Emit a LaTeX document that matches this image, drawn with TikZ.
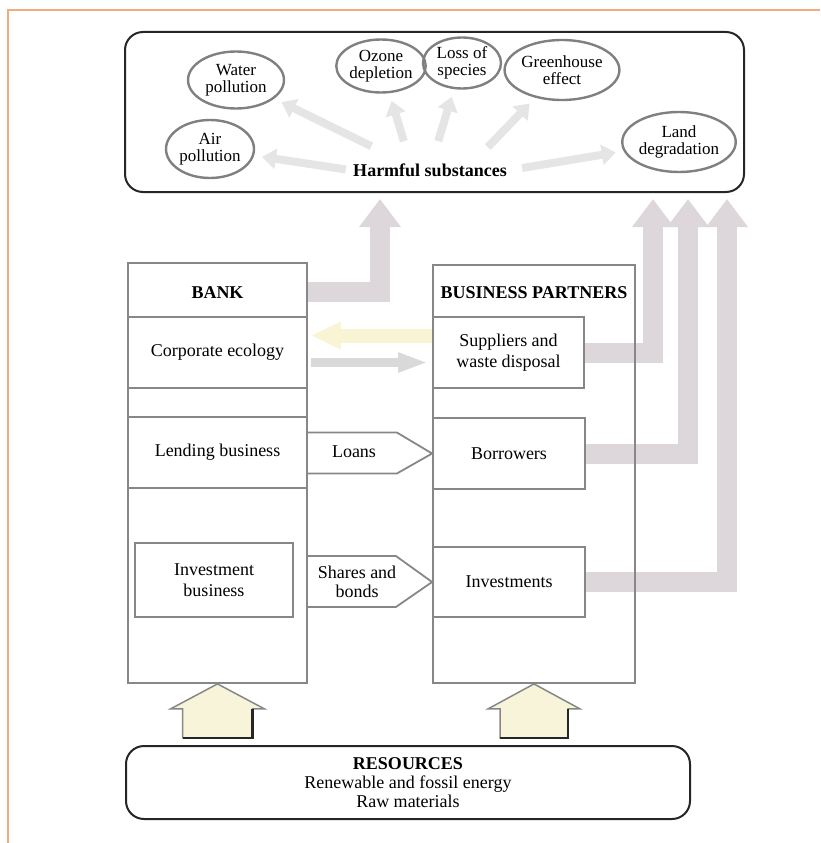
\documentclass[tikz,border=0pt]{standalone}
\usepackage{fontspec}
\setmainfont{Liberation Serif}
\usepackage{tikz}
\usetikzlibrary{arrows,arrows.meta,shapes,calc}
\definecolor{framecol}{RGB}{240,172,128}
\definecolor{boxgray}{RGB}{135,135,135}
\definecolor{flowgray}{RGB}{221,214,218}
\definecolor{paleyellow}{RGB}{249,245,212}
\definecolor{housefill}{RGB}{248,244,218}

\begin{document}
\begin{tikzpicture}[x=1pt,y=-1pt]
\tikzstyle{main}=[ellipse, draw=black!50, line width=2.4pt, inner sep=0pt, align=center, font=\fontsize{17}{17}\selectfont]
\tikzstyle{round}=[rectangle, rounded corners=18pt, draw=black!85, line width=2pt]
\tikzstyle{col}=[rectangle, draw=boxgray, line width=1.8pt, minimum width=179pt, minimum height=420pt]
\tikzstyle{rect}=[rectangle, draw=boxgray, line width=1.8pt, align=center, font=\fontsize{18}{21}\selectfont]
\tikzstyle{head}=[font=\bfseries\fontsize{18}{20}\selectfont]
\tikzstyle{fuzzy}=[-{Triangle[length=14pt,width=20pt]}, line width=8pt, draw=black!10, shorten <=4pt, shorten >=8pt]
\tikzstyle{flow}=[-{Triangle[length=28pt,width=40pt]}, line width=20pt, draw=flowgray, line join=miter, shorten >=6pt]
\tikzstyle{pent}=[draw=boxgray, line width=1.8pt, line join=miter]
\tikzstyle{house}=[fill=housefill, draw=boxgray, line width=1.5pt, line join=miter]

\useasboundingbox (0,0) rectangle (820,843);
\draw[framecol, line width=1.6pt] (8,843) -- (8,10) -- (820,10);

% harmful substances
\node[round, minimum width=619pt, minimum height=160pt] (top) at (434.5,112) {};
\node[head] (sub) at (430,170) {Harmful substances};
\node[main, minimum width=96pt, minimum height=57pt] (water) at (236,80) {Water\\pollution};
\node[main, minimum width=88pt, minimum height=58pt] (air)   at (210,149) {Air\\pollution};
\node[main, minimum width=76pt, minimum height=53pt] (ozone) at (381,66) {Ozone\\depletion};
\node[main, minimum width=78pt, minimum height=51pt] (loss)  at (462,63) {Loss of\\species};
\node[main, minimum width=106pt, minimum height=60pt] (green) at (562,70) {Greenhouse\\effect};
\node[main, minimum width=82pt, minimum height=60pt] (land)  at (679,142) {Land\\degradation};

\draw[fuzzy] (sub.west) -- (air);
\draw[fuzzy] ($(sub)+(-55,-22)$) -- (water);
\draw[fuzzy] ($(sub)+(-25,-25)$) -- (ozone);
\draw[fuzzy] ($(sub)+(7,-25)$) -- (loss);
\draw[fuzzy] ($(sub)+(55,-20)$) -- (green);
\draw[fuzzy, shorten <=12pt] (sub.east) -- (land);

% bank and partners
\node[head] (bankhead) at (217.5,293) {BANK};
\node[head] (parthead) at (534,293) {BUSINESS PARTNERS};
\node[rect, minimum width=179pt, minimum height=71pt] (ecology) at (217.5,352.5) {Corporate ecology};
\node[rect, minimum width=179pt, minimum height=71pt] (lending) [below of=ecology, node distance=100pt] {Lending business};
\node[rect, minimum width=158pt, minimum height=74pt] (invest) at (214,580) {Investment\\business};
\node[rect, minimum width=151pt, minimum height=71pt] (supply) at (508.5,352.5) {Suppliers and\\waste disposal};
\node[rect, minimum width=152pt, minimum height=71pt] (borrow) [below of=supply, node distance=101pt, xshift=0.5pt] {Borrowers};
\node[rect, minimum width=152pt, minimum height=70pt] (investm) [below of=borrow, node distance=128.5pt] {Investments};

\coordinate (up1) at (380,0);
\coordinate (up2) at (653,0);
\coordinate (up3) at (688,0);
\coordinate (up4) at (727,0);
\draw[flow] (307,292) -| (top.south -| up1);
\draw[flow] (supply.east) -| (top.south -| up2);
\draw[flow] (borrow.east) -| (top.south -| up3);
\draw[flow] (investm.east) -| (top.south -| up4);

\node[col] (bank) at (217.5,473) {};
\node[col, minimum width=202pt, minimum height=418pt] (partners) at (534,474) {};

\draw[-{Triangle[length=30pt,width=26pt]}, line width=14pt, draw=paleyellow] ($(supply.west)+(0,-17)$) -- ($(ecology.east)+(3,-17)$);
\draw[-{Triangle[length=30pt,width=18pt]}, line width=9pt, draw=black!15] ($(ecology.east)+(3,10)$) -- ($(supply.west)+(-4,10)$);

\node (loans) at (354,452) [font=\fontsize{18}{20}\selectfont] {Loans};
\draw[pent] ($(lending.east)+(0,-20)$) -- ++(89,0) -- (borrow.west) -- ($(lending.east)+(89,21)$) -- ++(-89,0);
\node (shares) at (357,582) [align=center, font=\fontsize{18}{19}\selectfont] {Shares and\\bonds};
\draw[pent] ($(bank.east |- invest.east)+(0,-24)$) -- ++(88,0) -- (investm.west) -- ($(bank.east |- invest.east)+(88,27)$) -- ++(-88,0);

% resources
\node[round, minimum width=564pt, minimum height=73pt, align=center, font=\fontsize{18}{19}\selectfont] (res) at (408,782.5) {\textbf{RESOURCES}\\Renewable and fossil energy\\Raw materials};

\filldraw[house] (bank.south) -- ++(47,25) -- ++(-12,0) -- ++(0,29) -- ++(-70,0) -- ++(0,-29) -- ++(-12,0) -- cycle;
\draw[black!85, line width=2.5pt] ($(bank.south)+(35,25)$) -- ++(0,29) -- ++(-70,0);
\filldraw[house] (partners.south) -- ++(46,25) -- ++(-12,0) -- ++(0,29) -- ++(-68,0) -- ++(0,-29) -- ++(-12,0) -- cycle;
\draw[black!85, line width=2.5pt] ($(partners.south)+(34,25)$) -- ++(0,29) -- ++(-68,0);

\end{tikzpicture}
\end{document}
